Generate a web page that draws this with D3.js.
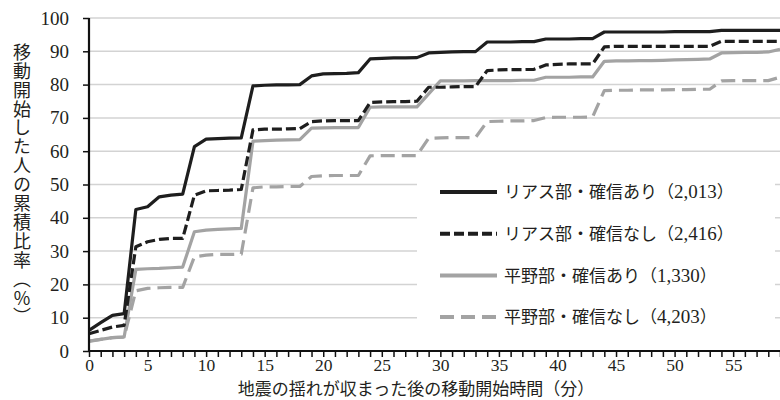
<!DOCTYPE html>
<html>
<head>
<meta charset="utf-8">
<script src="https://cdn.jsdelivr.net/npm/d3@7"></script>
<style>
  body { margin: 0; background: #fff; }
</style>
</head>
<body>
<div id="chart"></div>
<script>
// minutes after the shaking stopped
var minutes = [0, 1, 2, 3, 4, 5, 6, 7, 8, 9, 10, 11, 12, 13, 14, 15, 16, 17, 18, 19,
  20, 21, 22, 23, 24, 25, 26, 27, 28, 29, 30, 31, 32, 33, 34, 35, 36, 37, 38, 39,
  40, 41, 42, 43, 44, 45, 46, 47, 48, 49, 50, 51, 52, 53, 54, 55, 56, 57, 58, 59]

// cumulative share (%), one value per minute
var riasAri = [6.2, 8.5, 10.7, 11.2, 42.5, 43.3, 46.3, 46.8, 47.1, 61.4,
  63.6, 63.8, 63.9, 64.0, 79.6, 79.8, 79.9, 79.9, 80.0, 82.6,
  83.2, 83.3, 83.4, 83.6, 87.7, 87.9, 88.0, 88.0, 88.1, 89.5,
  89.7, 89.8, 89.9, 89.9, 92.8, 92.8, 92.8, 92.9, 92.9, 93.7,
  93.7, 93.7, 93.8, 93.8, 95.8, 95.8, 95.8, 95.8, 95.8, 95.8,
  95.9, 95.9, 95.9, 95.9, 96.3, 96.3, 96.3, 96.3, 96.3, 96.3]
var riasNashi = [5.2, 6.2, 7.2, 7.7, 31.3, 32.8, 33.5, 33.8, 33.8, 46.8,
  48.1, 48.2, 48.3, 48.5, 66.4, 66.6, 66.6, 66.7, 66.8, 68.9,
  69.1, 69.2, 69.2, 69.2, 74.6, 74.8, 74.9, 74.9, 75.0, 79.2,
  79.2, 79.3, 79.4, 79.4, 84.2, 84.4, 84.5, 84.5, 84.6, 85.9,
  86.1, 86.2, 86.2, 86.2, 91.3, 91.5, 91.5, 91.5, 91.5, 91.5,
  91.5, 91.5, 91.5, 91.5, 93.0, 93.0, 93.0, 93.0, 93.0, 93.0]
var heiyaAri = [2.9, 3.5, 4.0, 4.2, 24.5, 24.7, 24.8, 25.0, 25.2, 35.8,
  36.3, 36.5, 36.7, 36.8, 63.0, 63.2, 63.3, 63.4, 63.5, 66.9,
  67.0, 67.1, 67.1, 67.1, 73.2, 73.3, 73.3, 73.3, 73.3, 77.2,
  81.1, 81.1, 81.1, 81.2, 81.2, 81.2, 81.2, 81.3, 81.3, 82.2,
  82.2, 82.2, 82.3, 82.3, 87.0, 87.1, 87.1, 87.2, 87.2, 87.3,
  87.4, 87.5, 87.6, 87.7, 89.5, 89.6, 89.7, 89.7, 89.8, 90.6]
var heiyaNashi = [3.0, 3.5, 4.0, 4.2, 18.1, 18.8, 19.0, 19.1, 19.1, 28.3,
  28.8, 29.0, 29.0, 29.1, 49.0, 49.3, 49.3, 49.4, 49.4, 52.4,
  52.6, 52.7, 52.7, 52.7, 58.6, 58.7, 58.7, 58.7, 58.7, 63.9,
  64.0, 64.1, 64.1, 64.1, 68.9, 69.0, 69.1, 69.1, 69.2, 70.1,
  70.2, 70.2, 70.2, 70.3, 78.2, 78.3, 78.3, 78.4, 78.4, 78.4,
  78.5, 78.5, 78.6, 78.6, 81.1, 81.2, 81.2, 81.2, 81.2, 82.2]

// legend labels: group name and respondent count
var seriesLabels = [
  'リアス部・確信あり',
  'リアス部・確信なし',
  '平野部・確信あり',
  '平野部・確信なし'
]
var seriesCounts = ['2,013', '2,416', '1,330', '4,203']
var seriesValues = [riasAri, riasNashi, heiyaAri, heiyaNashi]

var yTicks = [0, 10, 20, 30, 40, 50, 60, 70, 80, 90, 100]
var xLabelTicks = [0, 5, 10, 15, 20, 25, 30, 35, 40, 45, 50, 55]

var yTitle = '移動開始した人の累積比率（％）'
var xTitle = '地震の揺れが収まった後の移動開始時間（分）'

// styles per series
var styles = [
  { color: '#1e1e1e', dash: null },
  { color: '#1e1e1e', dash: '10,4' },
  { color: '#a3a3a3', dash: null },
  { color: '#a3a3a3', dash: '14,7' }
]

var serif = '"Liberation Serif", Times, serif'
var cjk = '"Noto Sans CJK JP", sans-serif'
var textColor = '#231f20'

// Set up margin/height/width
var margin = { top: 18, left: 89, right: 0, bottom: 49 }
var height = 400 - margin.top - margin.bottom
var width = 780 - margin.left - margin.right

var svg = d3
  .select('#chart')
  .append('svg')
  .attr('width', width + margin.left + margin.right)
  .attr('height', height + margin.top + margin.bottom)
  .append('g')
  .attr('transform', `translate(${margin.left},${margin.top})`)

var xPositionScale = d3.scaleLinear().domain([0, 59]).range([0, width])
var yPositionScale = d3.scaleLinear().domain([0, 100]).range([height, 0])

// gridlines
svg
  .selectAll('.grid')
  .data(yTicks.filter(d => d > 0))
  .enter()
  .append('line')
  .attr('class', 'grid')
  .attr('x1', 0)
  .attr('x2', width)
  .attr('y1', d => yPositionScale(d))
  .attr('y2', d => yPositionScale(d))
  .attr('stroke', '#d3d3d3')
  .attr('stroke-width', 1.5)

// lines
var line = d3
  .line()
  .x((d, i) => xPositionScale(minutes[i]))
  .y(d => yPositionScale(d))

var drawOrder = [3, 2, 1, 0]
svg
  .selectAll('.series')
  .data(drawOrder)
  .enter()
  .append('path')
  .attr('class', 'series')
  .attr('d', i => line(seriesValues[i]))
  .attr('fill', 'none')
  .attr('stroke', i => styles[i].color)
  .attr('stroke-width', 3.2)
  .attr('stroke-linejoin', 'round')
  .attr('stroke-dasharray', i => styles[i].dash)

// legend box hides the gridlines behind it
var legend = svg.append('g')
legend
  .append('rect')
  .attr('x', 328)
  .attr('y', 148)
  .attr('width', 358)
  .attr('height', 174)
  .attr('fill', '#fff')

var legendRows = legend
  .selectAll('.legend-row')
  .data(seriesLabels)
  .enter()
  .append('g')
  .attr('class', 'legend-row')
  .attr('transform', (d, i) => `translate(351, ${174 + i * 41.7})`)

legendRows
  .append('line')
  .attr('x1', 0)
  .attr('x2', 57)
  .attr('stroke', (d, i) => styles[i].color)
  .attr('stroke-width', 4)
  .attr('stroke-dasharray', (d, i) => styles[i].dash)

var legendText = legendRows
  .append('text')
  .attr('x', 64)
  .attr('dy', '0.36em')
  .attr('fill', textColor)
  .style('font-family', cjk)
  .style('font-size', '17px')

legendText.append('tspan').text(d => d + '（')
legendText
  .append('tspan')
  .style('font-family', serif)
  .style('font-size', '19px')
  .text((d, i) => seriesCounts[i])
legendText.append('tspan').text('）')

// axes
var xAxis = d3
  .axisBottom(xPositionScale)
  .tickValues(minutes)
  .tickSize(6)
  .tickPadding(2)
  .tickFormat(d => (xLabelTicks.indexOf(d) >= 0 ? d : ''))

svg
  .append('g')
  .attr('class', 'axis x-axis')
  .attr('transform', `translate(0, ${height})`)
  .call(xAxis)

var yAxis = d3
  .axisLeft(yPositionScale)
  .tickValues(yTicks)
  .tickSize(6)
  .tickPadding(14)

svg
  .append('g')
  .attr('class', 'axis y-axis')
  .call(yAxis)

svg.selectAll('.axis .domain')
  .attr('stroke', '#111')
  .attr('stroke-width', 2.2)
svg.selectAll('.axis .tick line')
  .attr('stroke', '#111')
  .attr('stroke-width', 1.5)
svg.selectAll('.axis text')
  .attr('fill', textColor)
  .style('font-family', serif)
  .style('font-size', '19px')
svg.selectAll('.x-axis text').style('font-size', '17.5px')
svg.select('.x-axis .domain').attr('d', `M0,0H${width}`)
svg.select('.y-axis .domain').attr('d', `M0,${height}V0`)

// axis titles
svg
  .append('text')
  .text(xTitle)
  .attr('x', 327)
  .attr('y', 377)
  .attr('text-anchor', 'middle')
  .attr('fill', textColor)
  .style('font-family', cjk)
  .style('font-size', '17px')

svg
  .append('text')
  .text(yTitle)
  .attr('x', -67)
  .attr('y', 25)
  .attr('writing-mode', 'vertical-rl')
  .attr('letter-spacing', 0.9)
  .attr('fill', textColor)
  .style('font-family', cjk)
  .style('font-size', '18px')
</script>
</body>
</html>
